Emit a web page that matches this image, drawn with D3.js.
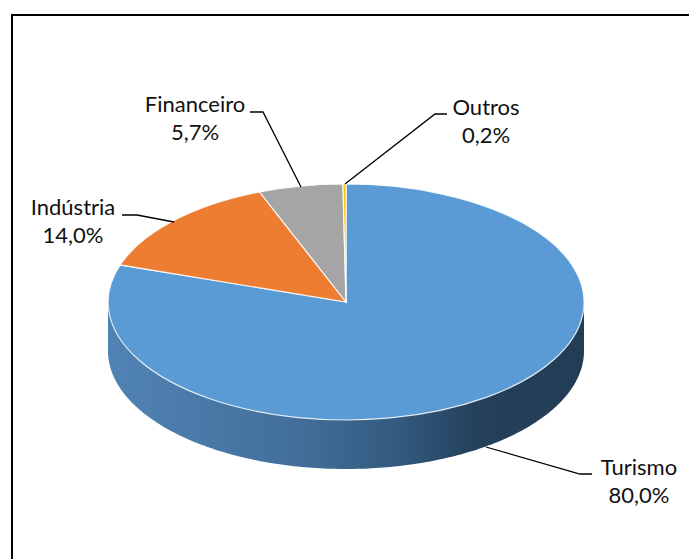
<!DOCTYPE html>
<html><head><meta charset="utf-8">
<script src="https://cdn.jsdelivr.net/npm/d3@7"></script>
<style>html,body{margin:0;padding:0;background:#fff}svg{display:block}text{font-family:Lato,sans-serif;font-size:22px;fill:#111}</style>
</head><body><svg id="c" width="689" height="559"></svg>
<script>
const categories = ["Turismo","Indústria","Financeiro","Outros"];
const shares = [80.0,14.0,5.7,0.2];
const shareLabels = ["80,0%","14,0%","5,7%","0,2%"];
const colors = ["#5B9BD5","#ED7D31","#A5A5A5","#FFC000"];
const wallStops = [[0,"#5083b5"],[0.4,"#426f9a"],[0.6,"#345b80"],[0.78,"#24405a"],[1,"#233d55"]];
const labelAnchors = [[639,475],[73,215],[195,112],[486,115]];
const leaders = [[[486,447],[580,474],[592,474]],[[174,222],[137,215],[122,215]],[[301,187],[263,112],[250,112]],[[345,184],[435,114],[447,114]]];

const W=689,H=559,cx=346,cy=302,rx=238,ry=118,depth=49;
const svg=d3.select("#c");
svg.append("rect").attr("x",12).attr("y",15).attr("width",W).attr("height",H).attr("fill","#fff").attr("stroke","#000").attr("stroke-width",2);

const grad=svg.append("defs").append("linearGradient").attr("id","wall").attr("gradientUnits","userSpaceOnUse")
  .attr("x1",cx-rx).attr("x2",cx+rx).attr("y1",0).attr("y2",0);
wallStops.forEach(s=>grad.append("stop").attr("offset",s[0]).attr("stop-color",s[1]));

const wall=d3.path();
wall.moveTo(cx-rx,cy);
wall.lineTo(cx-rx,cy+depth);
const ex=d3.scaleLinear().domain([0,1]).range([0,Math.PI]);
d3.range(0,1.0001,0.005).forEach(t=>wall.lineTo(cx-rx*Math.cos(ex(t)),cy+depth+ry*Math.sin(ex(t))));
wall.lineTo(cx+rx,cy);
wall.closePath();
svg.append("path").attr("d",wall.toString()).attr("fill","url(#wall)");

const pie=d3.pie().sort(null).value(d=>d)(shares);
const arc=d3.arc().innerRadius(0).outerRadius(1);
svg.append("g").attr("transform",`translate(${cx},${cy}) scale(${rx},${ry})`)
  .selectAll("path").data(pie).join("path")
  .attr("d",arc).attr("fill",(d,i)=>colors[i])
  .attr("stroke","#fff").attr("stroke-width",1.2).attr("vector-effect","non-scaling-stroke").attr("stroke-opacity",0.85);

const line=d3.line();
svg.append("g").selectAll("path").data(leaders).join("path")
  .attr("d",line).attr("fill","none").attr("stroke","#000").attr("stroke-width",1.3);

svg.append("g").selectAll("text").data(categories).join("text")
  .attr("text-anchor","middle").attr("x",(d,i)=>labelAnchors[i][0]).attr("y",(d,i)=>labelAnchors[i][1]).text(d=>d);
svg.append("g").selectAll("text").data(shareLabels).join("text")
  .attr("text-anchor","middle").attr("x",(d,i)=>labelAnchors[i][0]).attr("y",(d,i)=>labelAnchors[i][1]+28).text(d=>d);
</script></body></html>
